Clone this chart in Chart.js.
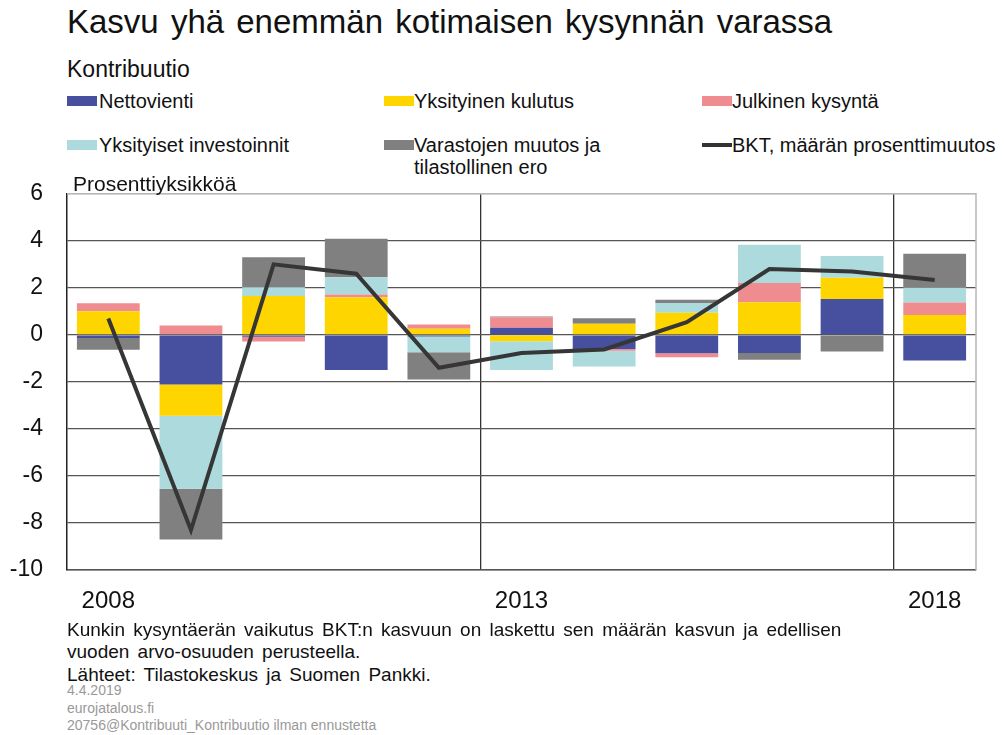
<!DOCTYPE html>
<html>
<head>
<meta charset="utf-8">
<script src="https://cdn.jsdelivr.net/npm/chart.js@4.4.1/dist/chart.umd.min.js"></script>
<style>
  body { margin: 0; background: #fff; font-family: "Liberation Sans", Arial, sans-serif; color: #111; }
  #page { position: relative; width: 1004px; height: 735px; overflow: hidden; }
  .t { position: absolute; white-space: nowrap; }
  .title { left: 67px; top: 3px; font-size: 33px; word-spacing: 3px; }
  .sub { left: 67px; top: 56px; font-size: 23px; }
  .leg { font-size: 20px; line-height: 22px; }
  .sw { position: absolute; width: 30px; height: 10px; }
  .yunit { left: 73px; top: 172px; font-size: 21px; }
  .note { left: 67px; font-size: 19px; word-spacing: 3px; }
  .small { left: 67px; font-size: 14px; color: #999; }
  #wrap { position: absolute; left: 0; top: 156px; width: 1004px; height: 465px; }
</style>
</head>
<body>
<div id="page">
  <div class="t title">Kasvu yhä enemmän kotimaisen kysynnän varassa</div>
  <div class="t sub">Kontribuutio</div>

  <div class="sw" style="left:67px;top:96px;background:#46509f"></div>
  <div class="t leg" style="left:99px;top:90px">Nettovienti</div>
  <div class="sw" style="left:384px;top:96px;background:#ffd500"></div>
  <div class="t leg" style="left:414px;top:90px">Yksityinen kulutus</div>
  <div class="sw" style="left:702px;top:96px;background:#ee8c90"></div>
  <div class="t leg" style="left:732px;top:90px">Julkinen kysyntä</div>

  <div class="sw" style="left:67px;top:140px;background:#acdadd"></div>
  <div class="t leg" style="left:99px;top:134px">Yksityiset investoinnit</div>
  <div class="sw" style="left:384px;top:140px;background:#808080"></div>
  <div class="t leg" style="left:414px;top:134px">Varastojen muutos ja<br>tilastollinen ero</div>
  <div class="sw" style="left:702px;top:143px;height:4px;background:#333"></div>
  <div class="t leg" style="left:732px;top:134px">BKT, määrän prosenttimuutos</div>

  <div id="wrap"><canvas id="chart"></canvas></div>
  <div class="t yunit">Prosenttiyksikköä</div>

  <div class="t note" style="top:619px">Kunkin kysyntäerän vaikutus BKT:n kasvuun on laskettu sen määrän kasvun ja edellisen</div>
  <div class="t note" style="top:641px">vuoden arvo-osuuden perusteella.</div>
  <div class="t note" style="top:664px">Lähteet: Tilastokeskus ja Suomen Pankki.</div>
  <div class="t small" style="top:682px">4.4.2019</div>
  <div class="t small" style="top:700px">eurojatalous.fi</div>
  <div class="t small" style="top:717px">20756@Kontribuuti_Kontribuutio ilman ennustetta</div>
</div>

<script>
/* ---------- data ---------- */
const years = ["2008", "2009", "2010", "2011", "2012", "2013", "2014", "2015", "2016", "2017", "2018"];
const shownYears = ["2008", "2013", "2018"];
const yTicks = [6, 4, 2, 0, -2, -4, -6, -8, -10];

const nettovienti   = [-0.13, -2.11, -0.08, -1.49, -0.07,  0.30, -0.60, -0.78, -0.77,  1.53, -1.09];
const kulutus       = [ 1.00, -1.33,  1.65,  1.60,  0.26, -0.27,  0.47,  0.94,  1.39,  0.90,  0.85];
const julkinen      = [ 0.35,  0.40, -0.20,  0.12,  0.18,  0.45, -0.07, -0.17,  0.82,  0.00,  0.53];
const investoinnit  = [ 0.00, -3.10,  0.38,  0.73, -0.67, -1.22, -0.68,  0.42,  1.62,  0.92,  0.62];
const varastot      = [-0.50, -2.16,  1.27,  1.64, -1.16,  0.03,  0.24,  0.13, -0.29, -0.71,  1.45];
const bkt           = [ 0.7,  -8.3,   3.0,   2.6,  -1.4,  -0.77, -0.62,  0.54,  2.8,   2.7,   2.33];

/* ---------- chart ---------- */
const frame = {
    id: "frame",
    afterDraw(chart) {
        const { ctx, chartArea: a } = chart;
        ctx.save();
        ctx.strokeStyle = "#b8b8b8";
        ctx.lineWidth = 1.5;
        ctx.beginPath();
        ctx.moveTo(a.left, a.top);
        ctx.lineTo(a.right, a.top);
        ctx.lineTo(a.right, a.bottom);
        ctx.stroke();
        ctx.restore();
    }
};

const bar = (label, data, color) => ({
    type: "bar", label, data, backgroundColor: color, borderWidth: 0,
    categoryPercentage: 1, barPercentage: 0.76, stack: "s", order: 2
});

new Chart(document.getElementById("chart"), {
    data: {
        labels: years,
        datasets: [
            {
                type: "line", label: "BKT, määrän prosenttimuutos", data: bkt,
                borderColor: "#363636", borderWidth: 4, pointRadius: 0,
                tension: 0, order: 1
            },
            bar("Nettovienti", nettovienti, "#46509f"),
            bar("Yksityinen kulutus", kulutus, "#ffd500"),
            bar("Julkinen kysyntä", julkinen, "#ee8c90"),
            bar("Yksityiset investoinnit", investoinnit, "#acdadd"),
            bar("Varastojen muutos ja tilastollinen ero", varastot, "#808080")
        ]
    },
    options: {
        responsive: true,
        maintainAspectRatio: false,
        animation: false,
        layout: { padding: { top: 0, right: 28, left: 0, bottom: 0 } },
        plugins: { legend: { display: false }, tooltip: { enabled: false } },
        scales: {
            x: {
                stacked: true,
                offset: true,
                grid: {
                    offset: true,
                    drawTicks: false,
                    lineWidth: 1.3,
                    color: c => (c.index === 5 || c.index === 10) ? "#333" : "rgba(0,0,0,0)"
                },
                border: { display: true, color: "#555", width: 1.5 },
                ticks: {
                    autoSkip: false, maxRotation: 0, padding: 17,
                    color: "#111",
                    font: { family: "Liberation Sans", size: 24 },
                    callback: function (v, i) {
                        const l = years[i];
                        return shownYears.includes(l) ? l : "";
                    }
                },
                afterFit: s => { s.height = 51; }
            },
            y: {
                stacked: true,
                min: -10, max: 6,
                afterBuildTicks: s => { s.ticks = yTicks.map(v => ({ value: v })); },
                grid: {
                    drawTicks: false,
                    lineWidth: 1.3,
                    color: c => c.tick && c.tick.value === 6 ? "#b8b8b8" : "#555"
                },
                border: { display: true, color: "#222", width: 1.5 },
                ticks: {
                    padding: 24, color: "#111",
                    font: { family: "Liberation Sans", size: 23 }
                },
                afterFit: s => { s.width = 67; }
            }
        }
    },
    plugins: [frame]
});
</script>
</body>
</html>
